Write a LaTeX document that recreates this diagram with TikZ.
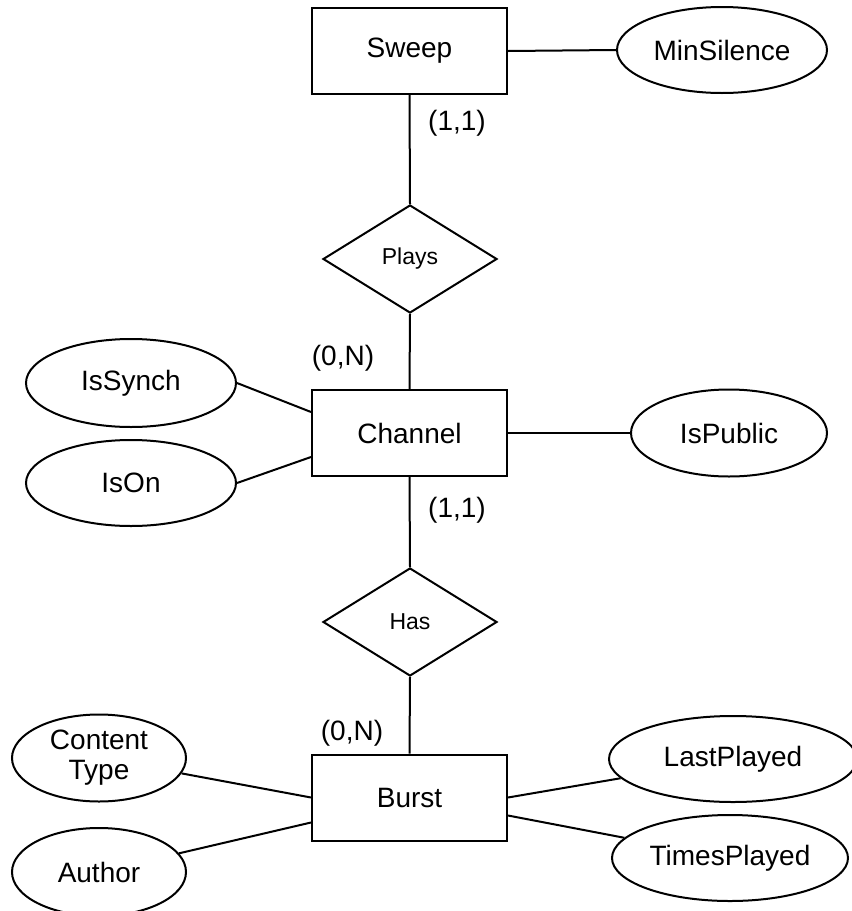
\documentclass[tikz,border=0pt]{standalone}
\usepackage{fontspec}
\setmainfont{Liberation Sans}
\usepackage{tikz}
\usetikzlibrary{shapes.geometric, positioning}

\begin{document}
\begin{tikzpicture}[x=1pt, y=-1pt, line width=2pt,
    entity/.style={draw, minimum width=195pt, minimum height=86pt, inner sep=0pt, font=\fontsize{28}{33}\selectfont},
    relation/.style={draw, diamond, minimum width=174pt, minimum height=108pt, inner sep=0pt, font=\fontsize{23}{27}\selectfont},
    attrib/.style={draw, ellipse, minimum height=86pt, inner sep=0pt, align=center, font=\fontsize{28}{33}\selectfont},
    card/.style={font=\fontsize{28}{33}\selectfont}]
    \useasboundingbox (0,0) rectangle (852,911);

    % Entities and relations
    \node[entity] (sweep) at (409.5,51) {Sweep};
    \node[relation] (plays) at (410,259) {Plays};
    \node[entity] (channel) at (409.5,433) {Channel};
    \node[relation] (has) at (410,622) {Has};
    \node[entity] (burst) at (409.5,797.5) {Burst};

    % Attributes
    \node[attrib, minimum width=210pt] (minsilence) at (722,50) {MinSilence};
    \node[attrib, minimum width=210pt, minimum height=88pt] (issynch) at (131,383) {IsSynch};
    \node[attrib, minimum width=210pt] (ison) at (131,483) {IsOn};
    \node[attrib, minimum width=196pt, minimum height=87pt] (ispublic) at (729,433) {IsPublic};
    \node[attrib, minimum width=174pt, minimum height=87pt] (contenttype) at (99,758) {Content\\[-3pt]Type};
    \node[attrib, minimum width=174pt, minimum height=88pt] (author) at (99,872) {Author};
    \node[attrib, minimum width=248pt] (lastplayed) at (733,759) {LastPlayed};
    \node[attrib, minimum width=236pt] (timesplayed) at (730,858) {TimesPlayed};

    % Cardinalities
    \node[card] (c1) at (457,123) {(1,1)};
    \node[card] (c2) at (343,358) {(0,N)};
    \node[card] (c3) at (457,510) {(1,1)};
    \node[card] (c4) at (352,733) {(0,N)};

    % Links
    \draw (sweep.south) -- (plays.north);
    \draw (plays.south) -- (channel.north);
    \draw (channel.south) -- (has.north);
    \draw (has.south) -- (burst.north);
    \draw (sweep.east) -- (minsilence.west);
    \draw (issynch.east) -- ([yshift=21pt]channel.west);
    \draw (ison.east) -- ([yshift=-24pt]channel.west);
    \draw (channel.east) -- (ispublic.west);
    \draw (contenttype) -- (burst.west);
    \draw (author) -- ([yshift=-25pt]burst.west);
    \draw (burst.east) -- (lastplayed);
    \draw ([yshift=-18pt]burst.east) -- (timesplayed);
\end{tikzpicture}
\end{document}
